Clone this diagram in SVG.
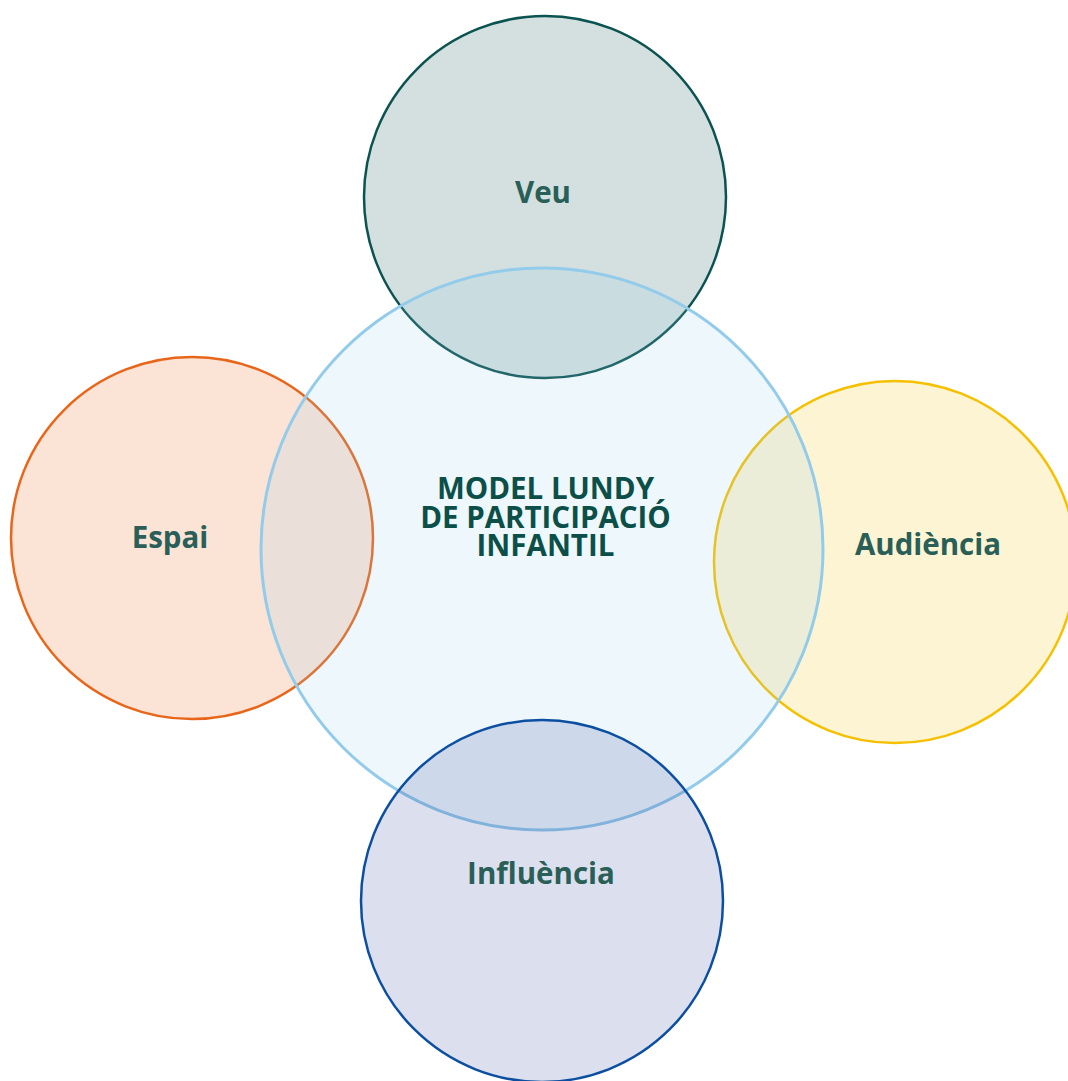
<svg xmlns="http://www.w3.org/2000/svg" width="1068" height="1081" viewBox="0 0 1068 1081">
<style>
.lbl{font-family:"Open Sans","Noto Sans","DejaVu Sans",sans-serif;font-weight:700;font-size:29.5px;fill:#2a5f58;text-anchor:middle}
.ttl{font-family:"Open Sans","Noto Sans","DejaVu Sans",sans-serif;font-weight:700;font-size:29.5px;fill:#0b4f48;text-anchor:middle}
.sat{stroke-width:2.5}
</style>
<rect width="1068" height="1081" fill="#ffffff"/>
<g id="veu">
<circle class="sat" cx="545" cy="197" r="181" fill="#0b5350" fill-opacity="0.18" stroke="#0b5350"/>
<text class="lbl" x="543" y="203">Veu</text>
</g>
<g id="espai">
<circle class="sat" cx="192" cy="538" r="181" fill="#e8661a" fill-opacity="0.18" stroke="#e8661a"/>
<text class="lbl" x="170" y="548">Espai</text>
</g>
<g id="audiencia">
<circle class="sat" cx="895" cy="562" r="181" fill="#f5c000" fill-opacity="0.17" stroke="#f5c000"/>
<text class="lbl" x="928" y="555">Audiència</text>
</g>
<g id="center">
<circle cx="542" cy="549" r="281" fill="#93cbea" fill-opacity="0.16" stroke="#93cbea" stroke-width="3"/>
<text class="ttl"><tspan x="545.5" y="499">MODEL LUNDY</tspan><tspan x="545.5" y="527.5">DE PARTICIPACIÓ</tspan><tspan x="545.5" y="556">INFANTIL</tspan></text>
</g>
<g id="influencia">
<circle class="sat" cx="542" cy="901" r="181" fill="#162a87" fill-opacity="0.15" stroke="#0c4fa0"/>
<text class="lbl" x="541" y="884">Influència</text>
</g>
<g id="connectors"></g>
</svg>
